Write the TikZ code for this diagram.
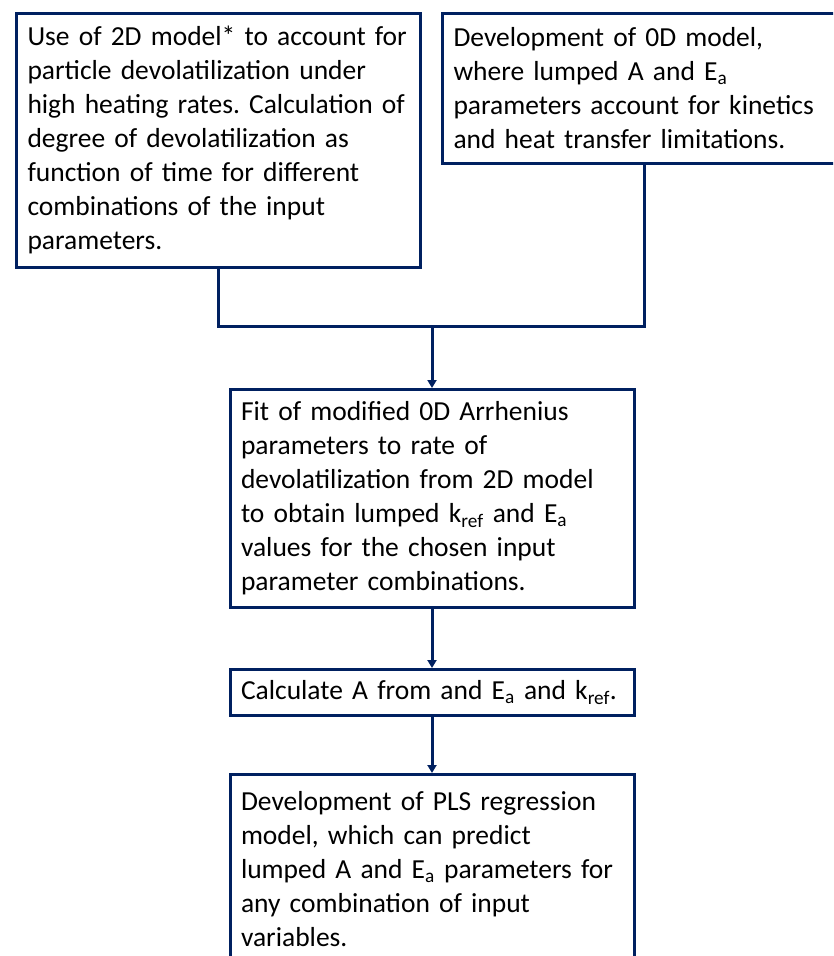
\documentclass[tikz,border=0pt]{standalone}
\usepackage{fontspec}
\setmainfont{Carlito}
\usetikzlibrary{arrows.meta}
\definecolor{navy}{RGB}{0,32,96}
\newcommand{\ix}[1]{\textsubscript{#1}}
\frenchspacing

\begin{document}
\begin{tikzpicture}[x=1pt, y=-1pt,
    box/.style={draw=navy, line width=3pt, anchor=north west, text width=382pt,
      inner xsep=11pt, inner ysep=0pt, align=left, font=\fontsize{27.5}{34}\selectfont},
    link/.style={navy, line width=3pt},
    arr/.style={link, -{Triangle[width=9pt,length=8pt]}}]
    \useasboundingbox (0,0) rectangle (833,956);
    \clip (0,0) rectangle (833,956);
    \node[box, minimum height=254pt] (2d) at (15,11.7) {Use of 2D model* to account for\\ particle devolatilization under\\ high heating rates. Calculation of\\ degree of devolatilization as\\ function of time for different\\ combinations of the input\\ parameters.};
    \node[box, minimum height=150pt] (0d) at (441,11.7) {Development of 0D model,\\ where lumped A and E\ix{a}\\ parameters account for kinetics\\ and heat transfer limitations.};
    \node[box, minimum height=218pt] (fit) at (228.5,388) {Fit of modified 0D Arrhenius\\ parameters to rate of\\ devolatilization from 2D model\\ to obtain lumped k\ix{ref} and E\ix{a}\\ values for the chosen input\\ parameter combinations.};
    \node[box, minimum height=46pt] (calc) at (228.5,668) {Calculate A from and E\ix{a} and k\ix{ref}.};
    \node[box, minimum height=190pt] (pls) at (228.5,773) {Development of PLS regression\\ model, which can predict\\ lumped A and E\ix{a} parameters for\\ any combination of input\\ variables.};
    \coordinate (join) at (fit.north |- 0,326);
    \draw[link] (2d.south) |- (join) -| (0d.south);
    \draw[arr] (join) -- (fit);
    \draw[arr] (fit) -- (calc);
    \draw[arr] (calc) -- (pls);
\end{tikzpicture}
\end{document}
